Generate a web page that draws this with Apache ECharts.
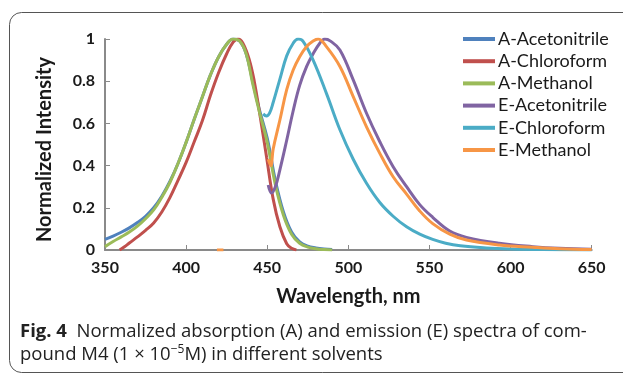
<!DOCTYPE html>
<html><head><meta charset="utf-8">
<script src="https://cdn.jsdelivr.net/npm/echarts@6/dist/echarts.min.js"></script>
<style>html,body{margin:0;padding:0;background:#fff}#c{width:623px;height:377px}</style>
</head><body><div id="c"></div>
<script>
var seriesNames = ['A-Acetonitrile','A-Chloroform','A-Methanol','E-Acetonitrile','E-Chloroform','E-Methanol'];
var seriesColors = ['#4F81BD','#C0504D','#9BBB59','#8064A2','#4BACC6','#F79646'];
var xTicks = [350,400,450,500,550,600,650];
var yTicks = [0,0.2,0.4,0.6,0.8,1];

var aAcnX = [350,355,360,365,370,375,380,385,390,395,400,405,410,415,420,425,429,433,437,441,445,450,455,460,465,470,475,480,485,490];
var aAcnY = [0.05,0.066,0.084,0.105,0.13,0.16,0.20,0.255,0.325,0.41,0.51,0.62,0.725,0.83,0.915,0.975,1.0,0.99,0.93,0.80,0.67,0.53,0.33,0.18,0.085,0.038,0.018,0.01,0.005,0.002];

var aChlX = [359,362,365,370,375,380,385,390,395,400,405,410,415,420,425,429,432,435,439,442,445.5,449.6,453.7,457.8,462,465,468];
var aChlY = [0,0.015,0.033,0.062,0.093,0.128,0.18,0.248,0.33,0.415,0.513,0.612,0.733,0.84,0.93,0.985,1.0,0.98,0.9,0.8,0.64,0.44,0.24,0.11,0.03,0.008,0];

var aMetX = [350,355,360,365,370,375,380,385,390,395,400,405,410,415,420,425,429,433,437,441,445,450,455,460,465,470,475,480,485,490];
var aMetY = [0.016,0.04,0.062,0.085,0.113,0.148,0.19,0.25,0.32,0.41,0.51,0.62,0.725,0.83,0.915,0.975,1.0,0.99,0.93,0.79,0.66,0.51,0.31,0.165,0.075,0.032,0.014,0.006,0.002,0];

var eAcnX = [450.6,452.6,455,457.8,462,466,470,474.3,478.3,482.4,485.5,489,494.8,503,511.2,519.4,527.6,535.9,544,552,562.5,572.8,593,613.7,630,650];
var eAcnY = [0.308,0.27,0.30,0.38,0.52,0.66,0.78,0.87,0.93,0.98,1.0,0.99,0.948,0.806,0.648,0.513,0.395,0.30,0.215,0.155,0.09,0.06,0.032,0.016,0.008,0.003];

var eChlX = [447.5,449.5,451.5,453.7,457.8,462,466,469,472,478.3,486.6,494.8,503,511.2,519.4,527.6,535.9,544,552,560,569,585,600,620,650];
var eChlY = [0.645,0.635,0.65,0.70,0.81,0.92,0.98,1.0,0.99,0.90,0.74,0.57,0.43,0.316,0.225,0.16,0.11,0.075,0.05,0.032,0.02,0.01,0.005,0.002,0];

var eMetX = [419,423,424,450.6,452.2,453.7,457.8,462,466,470,474.3,478.3,481.4,486.6,494.8,503,511.2,519.4,527.6,535.9,544,552,562.5,572.8,593,613.7,630,650];
var eMetY = [0,0,'-',0.43,0.40,0.48,0.616,0.76,0.853,0.916,0.964,0.99,1.0,0.963,0.87,0.727,0.584,0.458,0.347,0.265,0.185,0.125,0.075,0.047,0.024,0.013,0.006,0.002];

var xs = [aAcnX,aChlX,aMetX,eAcnX,eChlX,eMetX];
var ys = [aAcnY,aChlY,aMetY,eAcnY,eChlY,eMetY];

function pairs(x,y){return x.map(function(v,i){return [v,y[i]];});}

var FONT = 'Lato';
var chart = echarts.init(document.getElementById('c'));
var series = seriesNames.map(function(n,i){
  return {name:n,type:'line',data:pairs(xs[i],ys[i]),smooth:0.4,showSymbol:false,
    lineStyle:{color:seriesColors[i],width:3},itemStyle:{color:seriesColors[i]},
    connectNulls:false,z:2+i};
});
chart.setOption({
  animation:false,
  grid:{left:105,right:31.3,top:39,bottom:127},
  legend:{orient:'vertical',left:463,top:29,padding:0,itemWidth:32,itemHeight:4,itemGap:2.2,icon:'rect',
    textStyle:{fontFamily:FONT,fontSize:18,color:'#1a1a1a',lineHeight:20,padding:[0,0,0,-2]},
    data:seriesNames},
  xAxis:{type:'value',min:xTicks[0],max:xTicks[xTicks.length-1],interval:50,
    name:'Wavelength, nm',nameLocation:'middle',nameGap:37,
    nameTextStyle:{fontFamily:FONT,fontWeight:'bold',fontSize:20,color:'#1a1a1a'},
    axisLine:{lineStyle:{color:'#8a8a8a',width:2}},
    axisTick:{inside:true,length:5,lineStyle:{color:'#8a8a8a',width:1}},
    axisLabel:{fontFamily:FONT,fontWeight:'bold',fontSize:16,color:'#1a1a1a',margin:10},
    splitLine:{show:false}},
  yAxis:{type:'value',min:yTicks[0],max:yTicks[yTicks.length-1],interval:0.2,
    name:'Normalized Intensity',nameLocation:'middle',nameGap:50,
    nameTextStyle:{fontFamily:FONT,fontWeight:'bold',fontSize:20,color:'#1a1a1a',padding:[0,10,0,0]},
    axisLine:{show:true,lineStyle:{color:'#8a8a8a',width:2}},
    axisTick:{show:true,inside:true,length:5,lineStyle:{color:'#8a8a8a',width:1}},
    axisLabel:{fontFamily:FONT,fontWeight:'bold',fontSize:16,color:'#1a1a1a',margin:10},
    splitLine:{show:false}},
  graphic:[
    {type:'rect',shape:{x:9.5,y:12.5,width:700,height:360,r:12},style:{fill:'none',stroke:'#555',lineWidth:1},z:-1},
    {type:'text',left:20,top:322,style:{text:'{b|Fig. 4}  Normalized absorption (A) and emission (E) spectra of com-',
      rich:{b:{fontFamily:'Open Sans',fontWeight:'bold',fontSize:18.5,fill:'#222'}},
      fontFamily:'Open Sans',fontSize:18.5,fill:'#222'}},
    {type:'text',left:20,top:344,style:{text:'pound M4 (1 × 10{s|−5}M) in different solvents',
      rich:{s:{fontFamily:'Open Sans',fontSize:12,fill:'#222',verticalAlign:'top',padding:[0,0,10,0]}},
      fontFamily:'Open Sans',fontSize:18.5,fill:'#222'}}
  ],
  series:series
});
</script></body></html>
